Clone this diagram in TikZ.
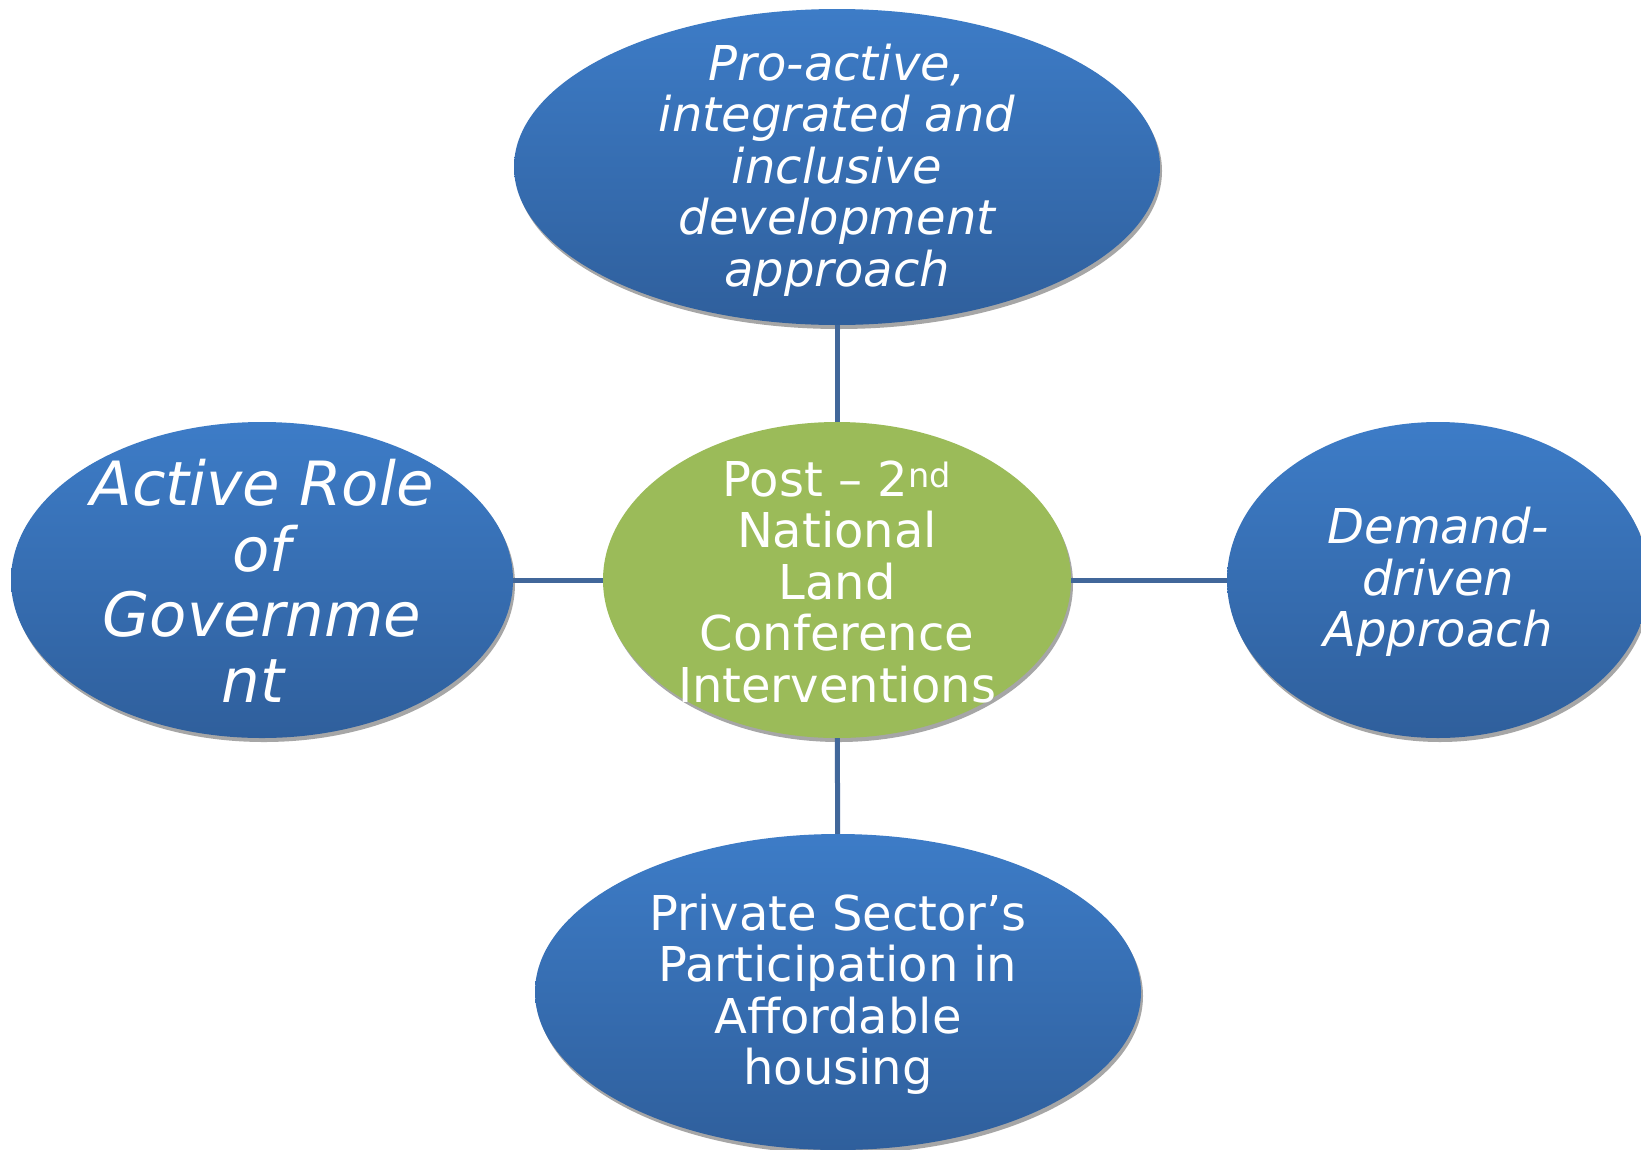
\documentclass[tikz,border=0pt]{standalone}
\usepackage{fontspec}
\setmainfont{DejaVu Sans}
\usetikzlibrary{shapes.geometric,shadows}
\definecolor{blobtop}{RGB}{61,124,199}
\definecolor{blobbot}{RGB}{47,95,156}
\definecolor{hubgreen}{RGB}{155,187,89}
\definecolor{linkblue}{RGB}{65,103,154}

\begin{document}
\begin{tikzpicture}[x=1pt,y=-1pt,
  blob/.style={ellipse, inner sep=0pt, minimum height=316pt,
    top color=blobtop, bottom color=blobbot,
    drop shadow={shadow xshift=2pt, shadow yshift=-4pt, fill=black!35, opacity=1}},
  hub/.style={ellipse, inner sep=0pt, minimum height=316pt, fill=hubgreen,
    drop shadow={shadow xshift=2pt, shadow yshift=-4pt, fill=black!35, opacity=1}},
  blobtext/.style={text=white, align=center, inner sep=0pt, font=\fontsize{48}{51.5}\selectfont},
  itext/.style={blobtext, font=\fontsize{48}{51.5}\selectfont\itshape},
  link/.style={linkblue, line width=5pt}]
\useasboundingbox (0,0) rectangle (1641,1149);
\fill[white] (0,0) rectangle (1641,1149);

\node[blob, minimum width=646pt] (pro) at (837,167) {};
\node[hub, minimum width=468pt] (post) at (837,580) {};
\node[blob, minimum width=502pt] (gov) at (262,580) {};
\node[blob, minimum width=422pt] (demand) at (1438,580) {};
\node[blob, minimum width=606pt] (private) at (838,992) {};

\draw[link] (pro) -- (post);
\draw[link] (gov) -- (post);
\draw[link] (post) -- (demand);
\draw[link] (post) -- (private);

\node[itext] (protext) at ([yshift=-3pt]pro) {Pro-active,\\integrated and\\inclusive\\development\\approach};
\node[blobtext] (posttext) at ([yshift=-2pt]post) {Post -- 2\textsuperscript{nd}\\National\\Land\\Conference\\Interventions};
\node[itext, font=\fontsize{61}{65.6}\selectfont\itshape] (govtext) at ([yshift=-1pt]gov) {Active Role\\of\\Governme\\nt\hspace*{18pt}};
\node[itext] (demandtext) at ([yshift=-2pt]demand) {Demand-\\driven\\Approach};
\node[blobtext] (privatetext) at ([yshift=-2pt]private) {Private Sector’s\\Participation in\\Affordable\\housing};
\end{tikzpicture}
\end{document}
